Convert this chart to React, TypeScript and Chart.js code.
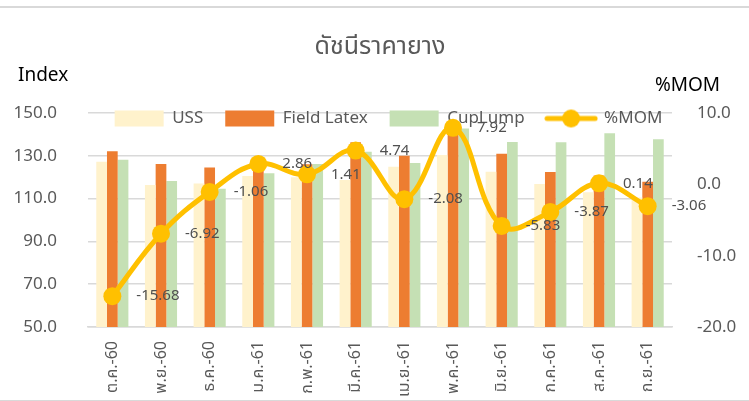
import { useEffect, useRef } from "react";
import { Chart, registerables } from "chart.js";

Chart.register(...registerables);

const categories = [
  "ต.ค.-60", "พ.ย.-60", "ธ.ค.-60", "ม.ค.-61", "ก.พ.-61", "มี.ค.-61",
  "เม.ย.-61", "พ.ค.-61", "มิ.ย.-61", "ก.ค.-61", "ส.ค.-61", "ก.ย.-61",
];
const ussValues = [127.2, 116.4, 117.1, 120.6, 120.0, 118.7, 124.9, 130.4, 122.6, 116.8, 113.0, 110.5];
const fieldLatexValues = [132.1, 126.2, 124.5, 127.0, 126.0, 136.3, 130.0, 143.0, 131.0, 122.4, 120.8, 117.9];
const cupLumpValues = [128.2, 118.2, 114.6, 121.8, 126.2, 131.9, 126.6, 142.8, 136.5, 136.3, 140.5, 137.7];
const momValues = [-15.68, -6.92, -1.06, 2.86, 1.41, 4.74, -2.08, 7.92, -5.83, -3.87, 0.14, -3.06];
const seriesNames = ["USS", "Field Latex", "CupLump", "%MOM"];
const titleText = "ดัชนีราคายาง";
const leftAxisTitle = "Index";
const rightAxisTitle = "%MOM";

const FONT = "'Noto Sans', 'Noto Sans Thai', Tahoma, sans-serif";
const GRAY = "#595959";

function makeLineLegendIcon(): HTMLCanvasElement {
  const c = document.createElement("canvas");
  c.width = 54;
  c.height = 20;
  const g = c.getContext("2d")!;
  g.strokeStyle = "#FFC000";
  g.lineWidth = 5;
  g.lineCap = "round";
  g.beginPath();
  g.moveTo(3, 10);
  g.lineTo(51, 10);
  g.stroke();
  g.fillStyle = "#FFC000";
  g.beginPath();
  g.arc(27, 10, 9, 0, Math.PI * 2);
  g.fill();
  return c;
}

export default function App() {
  const ref = useRef<HTMLCanvasElement | null>(null);

  useEffect(() => {
    if (!ref.current) return;
    const icon = makeLineLegendIcon();

    const decorPlugin = {
      id: "decor",
      afterLayout(chart: any) {
        const lg = chart.legend;
        if (lg) {
          lg.bottom = lg.top + 45;
          lg.height = 45;
          lg.left += 14;
          lg.right += 14;
        }
      },
      beforeDraw(chart: any) {
        const ctx = chart.ctx;
        ctx.save();
        ctx.fillStyle = "#d9d9d9";
        ctx.fillRect(0, 6, chart.width, 2);
        ctx.fillRect(0, 400, chart.width, 1);
        ctx.restore();
      },
      afterDraw(chart: any) {
        const ctx = chart.ctx;
        ctx.save();
        ctx.fillStyle = "#000000";
        ctx.font = `19px ${FONT}`;
        ctx.textBaseline = "middle";
        ctx.textAlign = "left";
        ctx.fillText(leftAxisTitle, 18, 76);
        ctx.fillText(rightAxisTitle, 655, 86);
        ctx.restore();
      },
    };

    const momLabelPlugin = {
      id: "momLabels",
      afterDatasetsDraw(chart: any) {
        const meta = chart.getDatasetMeta(3);
        const ctx = chart.ctx;
        ctx.save();
        ctx.font = `15px ${FONT}`;
        ctx.fillStyle = "#505050";
        ctx.textAlign = "left";
        ctx.textBaseline = "middle";
        meta.data.forEach((pt: any, i: number) => {
          ctx.fillText(momValues[i].toFixed(2), pt.x + 24, pt.y);
        });
        ctx.restore();
      },
    };

    const chart = new Chart(ref.current, {
      type: "bar",
      data: {
        labels: categories,
        datasets: [
          {
            type: "bar",
            label: seriesNames[0],
            data: ussValues,
            backgroundColor: "#FFF2CC",
            yAxisID: "y",
            order: 1,
            categoryPercentage: 0.66,
            barPercentage: 1,
          },
          {
            type: "bar",
            label: seriesNames[1],
            data: fieldLatexValues,
            backgroundColor: "#ED7D31",
            yAxisID: "y",
            order: 1,
            categoryPercentage: 0.66,
            barPercentage: 1,
          },
          {
            type: "bar",
            label: seriesNames[2],
            data: cupLumpValues,
            backgroundColor: "#C5E0B4",
            yAxisID: "y",
            order: 1,
            categoryPercentage: 0.66,
            barPercentage: 1,
          },
          {
            type: "line",
            label: seriesNames[3],
            data: momValues,
            borderColor: "#FFC000",
            backgroundColor: "#FFC000",
            borderWidth: 5,
            tension: 0.4,
            pointRadius: 9,
            pointBorderWidth: 0,
            pointBackgroundColor: "#FFC000",
            yAxisID: "y2",
            order: 0,
          } as any,
        ],
      },
      options: {
        animation: false,
        responsive: true,
        maintainAspectRatio: false,
        layout: { padding: { left: 0, right: 0, top: 0, bottom: 0 } },
        plugins: {
          tooltip: { enabled: false },
          title: {
            display: true,
            text: titleText,
            fullSize: false,
            color: GRAY,
            font: { family: FONT, size: 25, weight: "normal" },
            padding: { top: 32, bottom: 26 },
          },
          legend: {
            display: true,
            position: "top",
            fullSize: true,
            maxHeight: 25,
            labels: {
              usePointStyle: true,
              pointStyleWidth: 49,
              boxWidth: 49,
              boxHeight: 16,
              padding: 22,
              color: GRAY,
              font: { family: FONT, size: 17 },
              sort: (a: any, b: any) => a.datasetIndex - b.datasetIndex,
              generateLabels: (ch: any) => {
                const items = Chart.defaults.plugins.legend.labels.generateLabels(ch);
                return items.map((it: any) => {
                  if (it.datasetIndex === 3) {
                    return { ...it, pointStyle: icon, lineWidth: 0 };
                  }
                  return { ...it, pointStyle: "rect", lineWidth: 0, strokeStyle: "transparent" };
                });
              },
            },
          },
        },
        scales: {
          x: {
            grid: { display: false, drawTicks: false },
            border: { display: true, color: "#d9d9d9", width: 1.5 },
            ticks: {
              minRotation: 90,
              maxRotation: 90,
              padding: 14,
              color: GRAY,
              font: { family: FONT, size: 16 },
            },
            afterFit: (s: any) => {
              s.height = 74;
            },
          },
          y: {
            position: "left",
            min: 50,
            max: 150,
            ticks: {
              stepSize: 20,
              padding: 31,
              color: GRAY,
              font: { family: FONT, size: 17 },
              callback: (v: any) => Number(v).toFixed(1),
            },
            grid: { color: "#d9d9d9", lineWidth: 1.5, drawTicks: false },
            border: { display: false },
            afterFit: (s: any) => {
              s.width = 88;
            },
          },
          y2: {
            position: "right",
            min: -20,
            max: 10,
            ticks: {
              stepSize: 10,
              padding: 25,
              color: GRAY,
              font: { family: FONT, size: 17 },
              callback: (v: any) => Number(v).toFixed(1),
            },
            grid: { display: false, drawTicks: false },
            border: { display: false },
            afterFit: (s: any) => {
              s.width = 77;
            },
          },
        },
      },
      plugins: [decorPlugin, momLabelPlugin],
    });

    return () => chart.destroy();
  }, []);

  return (
    <div style={{ position: "absolute", left: 0, top: 0, width: 749, height: 401, background: "#fff" }}>
      <canvas ref={ref} />
    </div>
  );
}
